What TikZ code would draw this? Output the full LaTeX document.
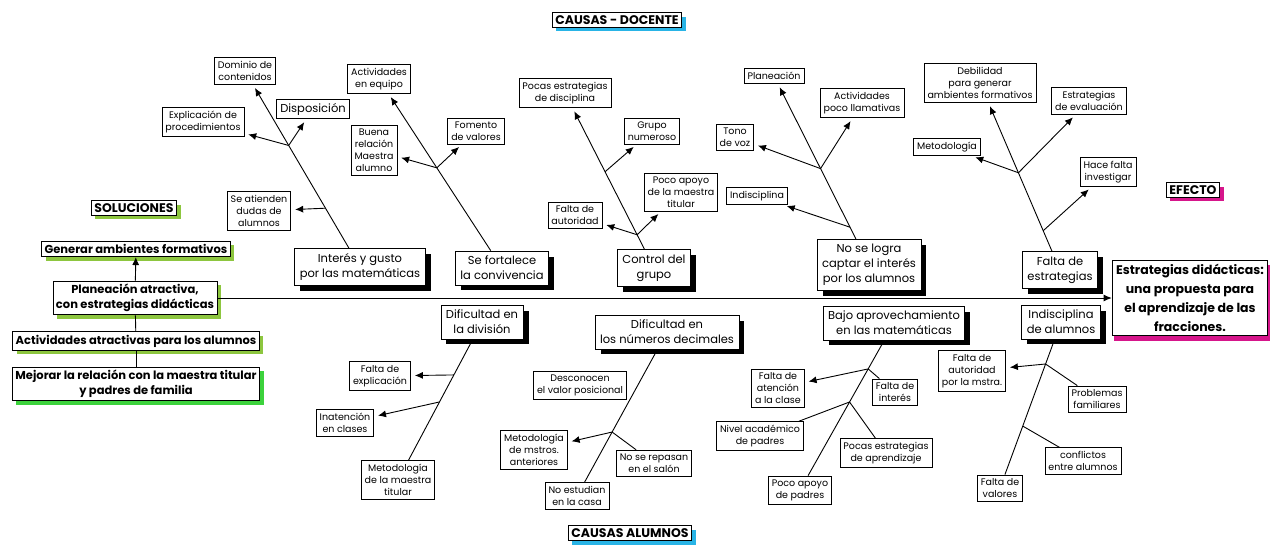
\documentclass[tikz,border=0pt]{standalone}
\usepackage{fontspec}
\setmainfont{Poppins}
\usepackage{tikz}
\usetikzlibrary{arrows.meta,shadows,calc}

\definecolor{verdeol}{HTML}{8DC63F}
\definecolor{verdevivo}{HTML}{3CD23C}
\definecolor{magenta}{HTML}{D6168B}
\definecolor{celeste}{HTML}{29B4E6}

\tikzset{
  chica/.style={draw, line width=0.7pt, fill=white, align=center, inner sep=3.5pt,
    font=\fontsize{9.5}{12}\selectfont},
  cat/.style={draw, line width=0.8pt, fill=white, align=center, inner sep=5pt,
    font=\fontsize{11.5}{15}\selectfont,
    drop shadow={shadow xshift=5.5pt, shadow yshift=-5.5pt, fill=black, opacity=1}},
  titulo/.style={draw, line width=0.8pt, fill=white, align=center, inner sep=3pt,
    font=\fontsize{11.5}{15}\selectfont\bfseries,
    drop shadow={shadow xshift=4pt, shadow yshift=-4pt, fill=#1, opacity=1}},
  rotulo/.style={titulo=#1, font=\fontsize{12.5}{15}\selectfont\bfseries},
  flecha/.style={-{Latex[length=8pt,width=7pt]}, line width=0.9pt, shorten >=4pt},
  rama/.style={line width=0.9pt}
}

\begin{document}
\begin{tikzpicture}[x=1pt, y=-1pt]
   \useasboundingbox (0,0) rectangle (1271,546);

   \draw (617,20) node[rotulo=celeste] (docente) {CAUSAS - DOCENTE};
   \draw (630,533) node[rotulo=celeste] (alumnos) {CAUSAS ALUMNOS};
   \draw (1193,190) node[rotulo=magenta] (efecto) {EFECTO};
   \draw (134,208) node[rotulo=verdeol] (soluc) {SOLUCIONES};

   \draw (136,249) node[titulo=verdeol] (generar) {Generar ambientes formativos};
   \draw (135,298) node[titulo=verdeol] (plan) {Planeación atractiva,\\ con estrategias didácticas};
   \draw (136,341) node[titulo=verdeol] (activ) {Actividades atractivas para los alumnos};
   \draw (136,384) node[titulo=verdevivo] (mejorar) {Mejorar la relación con la maestra titular\\ y padres de familia};
   \draw (1190,298) node[draw, line width=0.8pt, fill=white, align=center, inner sep=4pt,
      font=\fontsize{12.5}{19}\selectfont\bfseries,
      drop shadow={shadow xshift=2pt, shadow yshift=-5pt, fill=magenta, opacity=1}] (estrat)
      {Estrategias didácticas:\\ una propuesta para\\ el aprendizaje de las\\ fracciones.};

   \draw (360,267) node[cat] (interes) {Interés y gusto\\ por las matemáticas};
   \draw (502,268) node[cat] (convive) {Se fortalece\\ la convivencia};
   \draw (654,268) node[cat] (control) {Control del\\ grupo};
   \draw (869,265) node[cat] (nologra) {No se logra\\ captar el interés\\ por los alumnos};
   \draw (1060,270) node[cat] (faltaest) {Falta de\\ estrategias};
   \draw (482,322) node[cat] (division) {Dificultad en\\ la división};
   \draw (667,332) node[cat] (decimal) {Dificultad en\\ los números decimales};
   \draw (894,323) node[cat] (bajo) {Bajo aprovechamiento\\ en las matemáticas};
   \draw (1061,322) node[cat] (indisc) {Indisciplina\\ de alumnos};

   \draw (245,71) node[chica] (dominio) {Dominio de\\ contenidos};
   \draw (313,109) node[chica, font=\fontsize{11.5}{13}\selectfont] (dispos) {Disposición};
   \draw (203,122) node[chica] (explic) {Explicación de\\ procedimientos};
   \draw (259,211) node[chica] (dudas) {Se atienden\\ dudas de\\ alumnos};
   \draw (379,79) node[chica] (equipo) {Actividades\\ en equipo};
   \draw (374,150) node[chica] (buena) {Buena\\ relación\\ Maestra\\ alumno};
   \draw (476,131) node[chica] (fomento) {Fomento\\ de valores};
   \draw (565,93) node[chica] (pocasdis) {Pocas estrategias\\ de disciplina};
   \draw (652,131) node[chica] (grupo) {Grupo\\ numeroso};
   \draw (681,192) node[chica] (apoyomae) {Poco apoyo\\ de la maestra\\ titular};
   \draw (575,215) node[chica] (autoridad) {Falta de\\ autoridad};
   \draw (774,76) node[chica] (planea) {Planeación};
   \draw (862,103) node[chica] (llamat) {Actividades\\ poco llamativas};
   \draw (735,137) node[chica] (tono) {Tono\\ de voz};
   \draw (757,196) node[chica] (indisci) {Indisciplina};
   \draw (980,83) node[chica] (debil) {Debilidad\\ para generar\\ ambientes formativos};
   \draw (1089,101) node[chica] (evalua) {Estrategias\\ de evaluación};
   \draw (947,147) node[chica] (metod) {Metodología};
   \draw (1108,172) node[chica] (investig) {Hace falta\\ investigar};

   \draw (380,376) node[chica] (faltaexp) {Falta de\\ explicación};
   \draw (345,423) node[chica] (inaten) {Inatención\\ en clases};
   \draw (398,480) node[chica] (metmae) {Metodología\\ de la maestra\\ titular};
   \draw (580,385) node[chica] (descon) {Desconocen\\ el valor posicional};
   \draw (534,450) node[chica] (metmstros) {Metodología\\ de mstros.\\ anteriores};
   \draw (654,463) node[chica] (repasan) {No se repasan\\ en el salón};
   \draw (577,496) node[chica] (estudian) {No estudian\\ en la casa};
   \draw (778,388) node[chica] (atencion) {Falta de\\ atención\\ a la clase};
   \draw (895,392) node[chica] (faltaint) {Falta de\\ interés};
   \draw (760,436) node[chica] (nivel) {Nivel académico\\ de padres};
   \draw (886,453) node[chica] (pocasapr) {Pocas estrategias\\ de aprendizaje};
   \draw (800,490) node[chica] (apoyopad) {Poco apoyo\\ de padres};
   \draw (972,371) node[chica] (autmstra) {Falta de\\ autoridad\\ por la mstra.};
   \draw (1097,399) node[chica] (problemas) {Problemas\\ familiares};
   \draw (1083,461) node[chica] (conflictos) {conflictos\\ entre alumnos};
   \draw (1000,488) node[chica] (faltaval) {Falta de\\ valores};

   \coordinate (j1) at ($(interes)!0.62!(dominio)$);
   \coordinate (j2) at ($(interes)!0.30!(dominio)$);
   \coordinate (j3) at ($(convive)!0.53!(equipo)$);
   \coordinate (j4) at ($(control)!0.55!(pocasdis)$);
   \coordinate (j5) at ($(control)!0.19!(pocasdis)$);
   \coordinate (j6) at ($(nologra)!0.51!(planea)$);
   \coordinate (j7) at ($(nologra)!0.20!(planea)$);
   \coordinate (j8) at ($(faltaest)!0.52!(debil)$);
   \coordinate (j9) at ($(faltaest)!0.21!(debil)$);
   \coordinate (k1) at ($(division)!0.335!(metmae)$);
   \coordinate (k2) at ($(division)!0.506!(metmae)$);
   \coordinate (k3) at ($(decimal)!0.61!(estudian)$);
   \coordinate (k4) at ($(bajo)!0.275!(apoyopad)$);
   \coordinate (k5) at ($(bajo)!0.473!(apoyopad)$);
   \coordinate (k6) at ($(indisc)!0.253!(faltaval)$);
   \coordinate (k7) at ($(indisc)!0.627!(faltaval)$);

   \path[flecha, shorten >=0pt] (plan) edge (estrat);
   \path[flecha, shorten >=0pt] (plan) edge (generar);
   \path[rama] (plan) edge (activ) (activ) edge (mejorar);

   \path[flecha] (interes) edge (dominio) (convive) edge (equipo) (control) edge (pocasdis)
      (nologra) edge (planea) (faltaest) edge (debil);
   \path[flecha] (j1) edge (explic) edge (dispos);
   \path[flecha] (j2) edge (dudas);
   \path[flecha] (j3) edge (buena) edge (fomento);
   \path[flecha] (j4) edge (grupo);
   \path[flecha] (j5) edge (autoridad) edge (apoyomae);
   \path[flecha] (j6) edge (tono) edge (llamat);
   \path[flecha] (j7) edge (indisci);
   \path[flecha] (j8) edge (metod) edge (evalua);
   \path[flecha] (j9) edge (investig);

   \path[rama] (division) edge (metmae) (decimal) edge (estudian) (bajo) edge (apoyopad)
      (indisc) edge (faltaval);
   \path[flecha] (k1) edge (faltaexp);
   \path[flecha] (k2) edge (inaten);
   \path[flecha] (k3) edge (metmstros);
   \path[rama] (k3) edge (repasan);
   \path[flecha] (k4) edge (atencion);
   \path[rama] (k4) edge (faltaint);
   \path[rama] (k5) edge (nivel) edge (pocasapr);
   \path[flecha] (k6) edge (autmstra);
   \path[rama] (k6) edge (problemas);
   \path[rama] (k7) edge (conflictos);
\end{tikzpicture}
\end{document}
